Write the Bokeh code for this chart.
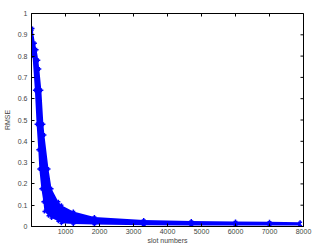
from bokeh.plotting import figure
from bokeh.models import FixedTicker, Range1d, ColumnDataSource
from bokeh.embed import file_html
from bokeh.resources import INLINE
import math

# values: envelope of the noisy RMSE band
slot = [1, 30, 100, 150, 200, 230, 290, 350, 380, 500, 590, 790, 880, 1230,
        1850, 3300, 4700, 6000, 7000, 7900]
rmse_upper = [0.92, 0.93, 0.86, 0.83, 0.78, 0.74, 0.64, 0.48, 0.43, 0.27,
              0.177, 0.116, 0.10, 0.07, 0.045, 0.03, 0.026, 0.024, 0.022, 0.02]
rmse_lower = [0.80, 0.80, 0.64, 0.48, 0.36, 0.27, 0.177, 0.116, 0.07, 0.05,
              0.04, 0.025, 0.015, 0.012, 0.009, 0.006, 0.005, 0.005, 0.005, 0.005]

x_ticks = [1000, 2000, 3000, 4000, 5000, 6000, 7000, 8000]
y_ticks = [0, 0.1, 0.2, 0.3, 0.4, 0.5, 0.6, 0.7, 0.8, 0.9, 1]
X_MAX = 8000
Y_MAX = 1

FONT = "Liberation Sans"
FS = "7px"

p = figure(width=313, height=246, output_backend="svg", toolbar_location=None,
           x_range=Range1d(0, X_MAX), y_range=Range1d(0, Y_MAX),
           min_border_left=0, min_border_right=10, min_border_top=13,
           min_border_bottom=0)
p.xgrid.visible = False
p.ygrid.visible = False
p.outline_line_color = "black"
p.outline_line_width = 1
p.background_fill_color = "white"
p.border_fill_color = "white"

src = ColumnDataSource(dict(x=slot, up=rmse_upper, lo=rmse_lower))
p.varea(x="x", y1="lo", y2="up", source=src, fill_color="#0000ff")
p.scatter(x="x", y="up", source=src, marker="cross", size=4, line_color="#0000ff", line_width=1.5)
p.scatter(x="x", y="lo", source=src, marker="cross", size=4, line_color="#0000ff", line_width=1.5)

for ax in (p.xaxis[0], p.yaxis[0]):
    ax.major_label_text_font = FONT
    ax.major_label_text_font_size = FS
    ax.major_label_text_color = "#444444"
    ax.axis_label_text_font = FONT
    ax.axis_label_text_font_size = FS
    ax.axis_label_text_font_style = "normal"
    ax.axis_label_text_color = "#444444"
    ax.major_tick_in = 3
    ax.major_tick_out = 0
    ax.minor_tick_line_color = None
    ax.axis_line_color = "black"

p.xaxis[0].ticker = FixedTicker(ticks=x_ticks)
p.yaxis[0].ticker = FixedTicker(ticks=y_ticks)
p.yaxis[0].major_label_overrides = {0: "0", 1: "1"}
p.xaxis[0].axis_label = "slot numbers"
p.yaxis[0].axis_label = "RMSE"
p.xaxis[0].major_label_standoff = 2
p.xaxis[0].axis_label_standoff = 0
p.yaxis[0].major_label_standoff = 4
p.yaxis[0].axis_label_standoff = 4

# mirrored inward ticks on the right and top edges of the box
p.scatter(x=[X_MAX] * len(y_ticks), y=y_ticks, marker="dash", size=6,
          line_color="black", line_width=1)
p.scatter(x=x_ticks, y=[Y_MAX] * len(x_ticks), marker="dash", size=6, angle=math.pi / 2,
          line_color="black", line_width=1)

open("out.html", "w").write(file_html(p, INLINE))
